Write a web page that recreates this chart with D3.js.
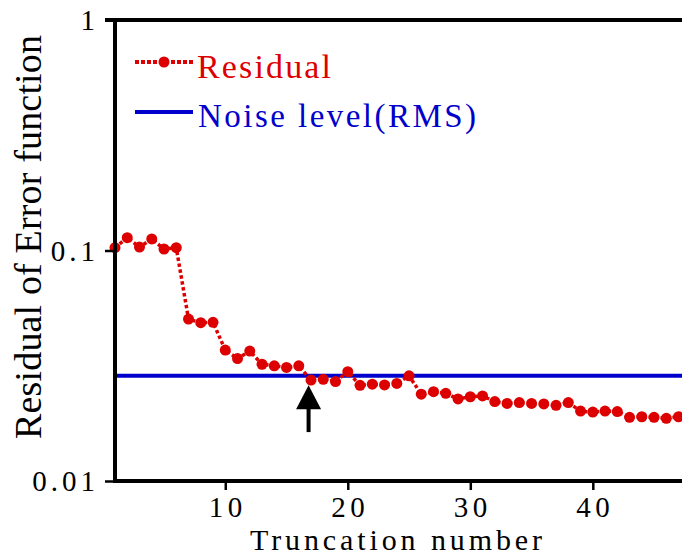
<!DOCTYPE html>
<html>
<head>
<meta charset="utf-8">
<script src="https://cdn.jsdelivr.net/npm/d3@7"></script>
<style>
  html, body { margin: 0; padding: 0; background: #fff; }
  svg { display: block; }
  text { font-family: "Liberation Serif", "Times New Roman", serif; }
</style>
</head>
<body>
<svg id="chart" width="682" height="557"></svg>
<script>
// ---- data ----
const truncation = d3.range(1, 48); // 1..47
const residual = [
  0.1028, 0.1136, 0.1035, 0.1122, 0.1015, 0.1028, 0.0504, 0.0486, 0.0488, 0.0370,
  0.0340, 0.0366, 0.0321, 0.0316, 0.0311, 0.0316, 0.0274, 0.0276, 0.0270, 0.0298,
  0.0260, 0.0263, 0.0261, 0.0265, 0.0286, 0.0238, 0.0244, 0.0240, 0.0227, 0.0232,
  0.0234, 0.0221, 0.0217, 0.0219, 0.0217, 0.0216, 0.0213, 0.0219, 0.0201, 0.0199,
  0.0201, 0.0200, 0.0189, 0.0190, 0.0189, 0.0187, 0.0190
];
const noiseLevel = 0.0286;
const xTicks = [10, 20, 30, 40];
const yTicks = [0.01, 0.1, 1];
const yTickLabels = ["0.01", "0.1", "1"];
const seriesNames = ["Residual", "Noise level(RMS)"];
const arrowAt = 16.8, arrowTip = 0.026, arrowHeadBase = 0.0205, arrowTail = 0.0163;

(function () {
const svg = d3.select("#chart");
const mL = 115, mR = 682, mT = 20, mB = 481;
const red = "#dd0000", blue = "#0000cc";

const x = d3.scaleLinear().domain([1, 47.28]).range([mL, mR]);
const y = d3.scaleLog().domain([0.01, 1]).range([mB, mT]);

// noise line
svg.append("line")
  .attr("x1", x(1)).attr("x2", mR)
  .attr("y1", y(noiseLevel)).attr("y2", y(noiseLevel))
  .attr("stroke", blue).attr("stroke-width", 4);

// residual line
const pts = truncation.map((t, i) => [t, residual[i]]);
svg.append("path")
  .datum(pts)
  .attr("d", d3.line().x(d => x(d[0])).y(d => y(d[1])))
  .attr("fill", "none").attr("stroke", red)
  .attr("stroke-width", 3.5).attr("stroke-dasharray", "3.5,2.5");

svg.append("g").selectAll("circle").data(pts).join("circle")
  .attr("cx", d => x(d[0])).attr("cy", d => y(d[1]))
  .attr("r", 5.5).attr("fill", red);

// axes
const yAxis = d3.axisLeft(y).tickValues(yTicks)
  .tickFormat((d, i) => yTickLabels[i]).tickSize(10).tickPadding(6);
const gy = svg.append("g").attr("transform", `translate(${mL},0)`).call(yAxis);
gy.attr("font-family", null).attr("font-size", null);
gy.select(".domain").remove();
gy.selectAll(".tick line").attr("stroke", "#000").attr("stroke-width", 2.5);
gy.selectAll(".tick text").attr("font-size", 29).attr("fill", "#000")
  .attr("dy", 9.5).attr("letter-spacing", 4);

const xAxis = d3.axisBottom(x).tickValues(xTicks).tickSize(9);
const gx = svg.append("g").attr("transform", `translate(0,${mB})`).call(xAxis);
gx.attr("font-family", null).attr("font-size", null);
gx.select(".domain").remove();
gx.selectAll(".tick line").attr("stroke", "#000").attr("stroke-width", 2.5);
gx.selectAll(".tick text").attr("font-size", 29).attr("fill", "#000")
  .attr("y", 35.5).attr("dy", 0).attr("dx", 2).attr("letter-spacing", 4.5);

// frame lines
svg.append("line").attr("x1", mL).attr("x2", mL).attr("y1", mT - 2).attr("y2", mB + 2)
  .attr("stroke", "#000").attr("stroke-width", 4);
svg.append("line").attr("x1", mL - 10).attr("x2", mR).attr("y1", mT).attr("y2", mT)
  .attr("stroke", "#000").attr("stroke-width", 4);
svg.append("line").attr("x1", mL - 2).attr("x2", mR).attr("y1", mB).attr("y2", mB)
  .attr("stroke", "#000").attr("stroke-width", 4);

// axis titles
svg.append("text")
  .attr("transform", "translate(41,237) rotate(-90)")
  .attr("text-anchor", "middle").attr("font-size", 38).attr("fill", "#000")
  .attr("textLength", 404).attr("lengthAdjust", "spacing")
  .text("Residual of Error function");
svg.append("text")
  .attr("x", 396).attr("y", 550)
  .attr("text-anchor", "middle").attr("font-size", 30).attr("fill", "#000")
  .attr("textLength", 292).attr("lengthAdjust", "spacing")
  .text("Truncation number");

// arrow annotation
const ax = x(arrowAt);
svg.append("line").attr("x1", ax).attr("x2", ax)
  .attr("y1", y(arrowHeadBase) - 2).attr("y2", y(arrowTail))
  .attr("stroke", "#000").attr("stroke-width", 4);
svg.append("path")
  .attr("d", `M${ax},${y(arrowTip)} L${ax - 12.5},${y(arrowHeadBase)} L${ax + 12.5},${y(arrowHeadBase)} Z`)
  .attr("fill", "#000");

// legend
const lg = svg.append("g");
lg.append("line").attr("x1", 135).attr("x2", 193).attr("y1", 62).attr("y2", 62)
  .attr("stroke", red).attr("stroke-width", 4).attr("stroke-dasharray", "4,2");
lg.append("circle").attr("cx", 164).attr("cy", 62).attr("r", 5.5).attr("fill", red);
lg.append("text").attr("x", 197).attr("y", 78).attr("font-size", 34).attr("fill", red)
  .attr("textLength", 134).attr("lengthAdjust", "spacing")
  .text(seriesNames[0]);
lg.append("line").attr("x1", 135).attr("x2", 193).attr("y1", 112).attr("y2", 112)
  .attr("stroke", blue).attr("stroke-width", 4);
lg.append("text").attr("x", 198).attr("y", 127).attr("font-size", 33).attr("fill", blue)
  .attr("textLength", 278).attr("lengthAdjust", "spacing")
  .text(seriesNames[1]);
})();
</script>
</body>
</html>
